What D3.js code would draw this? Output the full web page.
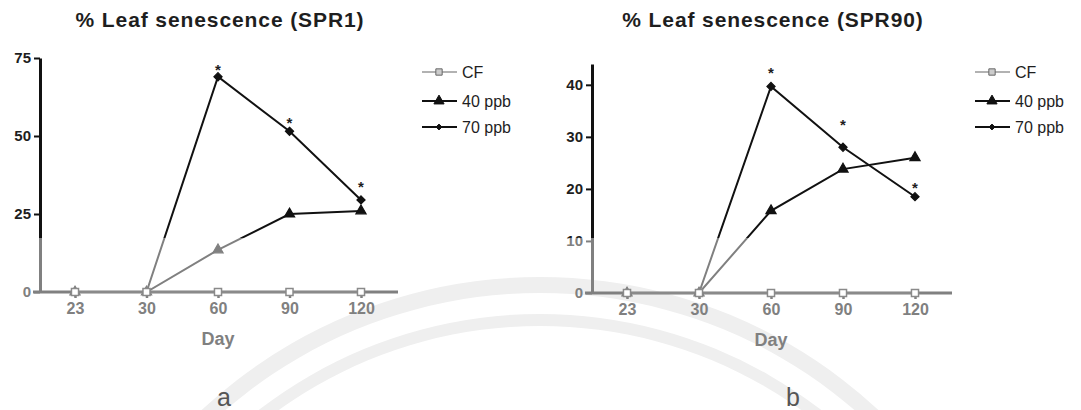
<!DOCTYPE html>
<html>
<head>
<meta charset="utf-8">
<script src="https://cdn.jsdelivr.net/npm/d3@7"></script>
<style>
  body { margin: 0; background: #fff; }
  svg { display: block; font-family: "Liberation Sans", Arial, sans-serif; }
</style>
</head>
<body>
<svg width="1081" height="410"></svg>
<script>
var days = ["23", "30", "60", "90", "120"];
var seriesNames = ["CF", "40 ppb", "70 ppb"];

// SPR1 (panel a)
var spr1CF = [0, 0, 0, 0, 0];
var spr1_40 = [0, 0, 13.5, 25, 26];
var spr1_70 = [0, 0, 69, 51.5, 29.5];
var spr1Stars = [null, null, 72.5, 55.5, 35];
var spr1Ticks = [0, 25, 50, 75];

// SPR90 (panel b)
var spr90CF = [0, 0, 0, 0, 0];
var spr90_40 = [0, 0, 15.8, 23.8, 26];
var spr90_70 = [0, 0, 39.7, 28, 18.5];
var spr90Stars = [null, null, 43, 33, 21];
var spr90Ticks = [0, 10, 20, 30, 40];

var svg = d3.select("svg");

var panels = [
  {title: "% Leaf senescence (SPR1)", tag: "a", cf: spr1CF, p40: spr1_40, p70: spr1_70,
   stars: spr1Stars, ticks: spr1Ticks, yMax: 75,
   left: 40, right: 398, x0: 75, x1: 361, top: 58, bottom: 292, titleX: 220, legendX: 422, tagX: 224},
  {title: "% Leaf senescence (SPR90)", tag: "b", cf: spr90CF, p40: spr90_40, p70: spr90_70,
   stars: spr90Stars, ticks: spr90Ticks, yMax: 44,
   left: 592, right: 952, x0: 627, x1: 915, top: 64, bottom: 293, titleX: 773, legendX: 975, tagX: 793}
];

// faint watermark rings of the scanned page
var wm = svg.append("g").attr("transform", "translate(540,774)");
[[481, 497], [448, 460]].forEach(function(r) {
  wm.append("path")
      .attr("d", d3.arc().innerRadius(r[0]).outerRadius(r[1]).startAngle(-Math.PI / 3).endAngle(Math.PI / 3)())
      .attr("fill", "#efefef");
});

// the lower part of the scan is washed out by the watermark
var splitY = 238;
var defs = svg.append("defs");
defs.append("clipPath").attr("id", "upper")
  .append("rect").attr("x", 0).attr("y", 0).attr("width", 1081).attr("height", splitY);
defs.append("clipPath").attr("id", "lower")
  .append("rect").attr("x", 0).attr("y", splitY).attr("width", 1081).attr("height", 410 - splitY);

var dark = {line: "#111", text: "#1e1e1e", fill: "#fff", cf: "#777"};
var pale = {line: "#808080", text: "#808080", fill: "#fff", cf: "#8a8a8a"};
var diamond = d3.symbolDiamond2 || d3.symbolDiamond;

function drawPanel(g, p, ink) {
  var x = d3.scalePoint().domain(days).range([p.x0, p.x1]);
  var y = d3.scaleLinear().domain([0, p.yMax]).range([p.bottom, p.top]);

  // y axis
  var ya = g.append("g")
      .attr("transform", "translate(" + p.left + ",0)")
      .call(d3.axisLeft(y).tickValues(p.ticks).tickSize(6).tickSizeOuter(0).tickPadding(3));
  ya.select(".domain").attr("stroke", ink.line).attr("stroke-width", 3);
  ya.selectAll(".tick line").attr("stroke", ink.line).attr("stroke-width", 2);
  ya.selectAll(".tick text")
      .attr("fill", ink.text)
      .style("font-size", "15px")
      .style("font-weight", "bold");

  // x axis
  var xa = g.append("g")
      .attr("transform", "translate(0," + y(0) + ")")
      .call(d3.axisBottom(x).tickSize(6).tickSizeOuter(0).tickPadding(5));
  xa.select(".domain").remove();
  xa.append("line")
      .attr("x1", p.left - 7).attr("x2", p.right)
      .attr("stroke", ink.line).attr("stroke-width", 3);
  xa.selectAll(".tick line").attr("stroke", ink.line).attr("stroke-width", 2.5);
  xa.selectAll(".tick text")
      .attr("fill", ink.text)
      .style("font-size", "16px")
      .style("font-weight", "bold");

  g.append("text")
      .attr("x", x("60"))
      .attr("y", y(0) + 53)
      .attr("text-anchor", "middle")
      .attr("fill", ink.text)
      .style("font-size", "18px")
      .style("font-weight", "bold")
      .text("Day");

  var line = d3.line()
      .x(function(d, i) { return x(days[i]); })
      .y(function(d) { return y(d); });

  var series = [
    {values: p.p70, symbol: diamond, size: 42, filled: true},
    {values: p.p40, symbol: d3.symbolTriangle, size: 45, filled: true},
    {values: p.cf, symbol: d3.symbolSquare, size: 50, filled: false}
  ];

  series.forEach(function(s) {
    g.append("path")
        .datum(s.values)
        .attr("fill", "none")
        .attr("stroke", s.filled ? ink.line : ink.cf)
        .attr("stroke-width", 2)
        .attr("d", line);
  });

  series.forEach(function(s) {
    g.selectAll(null)
      .data(s.values)
      .enter().append("path")
        .attr("transform", function(d, i) { return "translate(" + x(days[i]) + "," + y(d) + ")"; })
        .attr("d", d3.symbol().type(s.symbol).size(s.size))
        .attr("fill", s.filled ? ink.line : ink.fill)
        .attr("stroke", s.filled ? ink.line : ink.cf)
        .attr("stroke-width", s.filled ? 1.2 : 1.5);
  });

  g.selectAll(null)
    .data(p.stars.map(function(v, i) { return {v: v, day: days[i]}; }).filter(function(d) { return d.v != null; }))
    .enter().append("text")
      .attr("x", function(d) { return x(d.day); })
      .attr("y", function(d) { return y(d.v) + 9; })
      .attr("text-anchor", "middle")
      .attr("fill", ink.text)
      .style("font-size", "15px")
      .style("font-weight", "bold")
      .text("*");
}

panels.forEach(function(p) {
  drawPanel(svg.append("g").attr("clip-path", "url(#upper)"), p, dark);
  drawPanel(svg.append("g").attr("clip-path", "url(#lower)"), p, pale);

  svg.append("text")
      .attr("x", p.titleX)
      .attr("y", 27)
      .attr("text-anchor", "middle")
      .attr("fill", "#1e1e1e")
      .style("font-size", "21px")
      .style("font-weight", "bold")
      .style("letter-spacing", "0.9px")
      .text(p.title);

  // legend
  var legendSymbols = [d3.symbolSquare, d3.symbolTriangle, diamond];
  var lg = svg.append("g").attr("transform", "translate(" + p.legendX + ",72)");
  var row = lg.selectAll("g")
    .data(seriesNames)
    .enter().append("g")
      .attr("transform", function(d, i) { return "translate(0," + [0, 29, 55][i] + ")"; });
  row.append("line")
      .attr("x1", 0).attr("x2", 35)
      .attr("stroke", function(d, i) { return i === 0 ? "#666" : "#111"; })
      .attr("stroke-width", function(d, i) { return i === 0 ? 1.2 : 1.8; });
  row.append("path")
      .attr("transform", "translate(17,0)")
      .attr("d", function(d, i) { return d3.symbol().type(legendSymbols[i]).size([40, 45, 22][i])(); })
      .attr("fill", function(d, i) { return i === 0 ? "#ccc" : "#111"; })
      .attr("stroke", function(d, i) { return i === 0 ? "#666" : "#111"; })
      .attr("stroke-width", 1);
  row.append("text")
      .attr("x", 40)
      .attr("dy", "0.36em")
      .attr("fill", "#1e1e1e")
      .style("font-size", "16px")
      .text(function(d) { return d; });

  svg.append("text")
      .attr("x", p.tagX)
      .attr("y", 406)
      .attr("text-anchor", "middle")
      .attr("fill", "#555")
      .style("font-size", "25px")
      .text(p.tag);
});
</script>
</body>
</html>
